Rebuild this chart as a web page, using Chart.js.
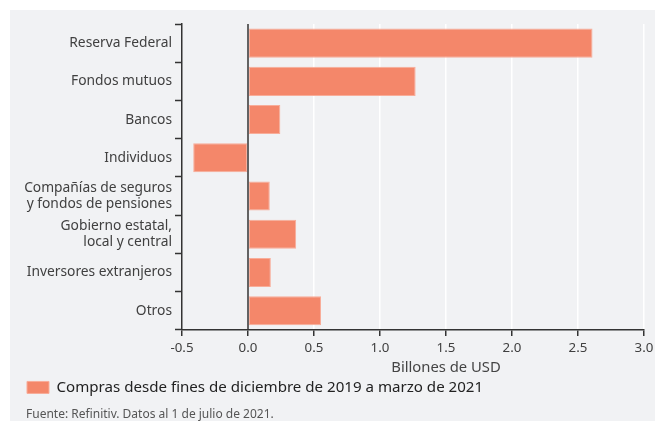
<!DOCTYPE html>
<html>
<head>
<meta charset="utf-8">
<script src="https://cdn.jsdelivr.net/npm/chart.js@4"></script>
<style>
  html, body { margin: 0; padding: 0; background: #fff; }
  #wrap { position: absolute; left: 10px; top: 10px; width: 645px; height: 411px; background: #f1f2f4; }
</style>
</head>
<body>
<div id="wrap"><canvas id="myChart"></canvas></div>
<script>
// data
const categories = [
  'Reserva Federal',
  'Fondos mutuos',
  'Bancos',
  'Individuos',
  ['Compañías de seguros', 'y fondos de pensiones'],
  ['Gobierno estatal,', 'local y central'],
  'Inversores extranjeros',
  'Otros'
];
const purchases = [2.61, 1.27, 0.245, -0.415, 0.165, 0.365, 0.173, 0.553];
const seriesLabel = 'Compras desde fines de diciembre de 2019 a marzo de 2021';
const xTicks = [-0.5, 0.0, 0.5, 1.0, 1.5, 2.0, 2.5, 3.0];
const xTitle = 'Billones de USD';
const source = 'Fuente: Refinitiv. Datos al 1 de julio de 2021.';

const FONT = '"Noto Sans", sans-serif';

// axis title sits under 1.5, and the zero line is drawn over the bars
const extras = {
  id: 'extras',
  afterLayout(chart) {
    // let the long category labels run past the padding without being clipped
    chart.scales.y.left = 0;
  },
  afterDatasetsDraw(chart) {
    const { ctx, chartArea, scales: { x } } = chart;
    const zx = x.getPixelForValue(0);
    ctx.save();
    ctx.strokeStyle = '#333';
    ctx.lineWidth = 1.5;
    ctx.beginPath();
    ctx.moveTo(zx, chartArea.top);
    ctx.lineTo(zx, chartArea.bottom);
    ctx.stroke();
    ctx.fillStyle = '#444';
    ctx.font = '14.8px ' + FONT;
    ctx.textAlign = 'center';
    ctx.textBaseline = 'middle';
    ctx.fillText(xTitle, x.getPixelForValue(1.5), chartArea.bottom + 38);
    ctx.restore();
  }
};

document.addEventListener('DOMContentLoaded', function () {
  const ctx = document.getElementById('myChart');

  new Chart(ctx, {
    type: 'bar',
    data: {
      labels: categories,
      datasets: [{
        label: seriesLabel,
        data: purchases,
        backgroundColor: '#f4876a',
        borderColor: '#f8ad99',
        borderWidth: 1,
        borderSkipped: false,
        barPercentage: 0.76,
        categoryPercentage: 1
      }]
    },
    options: {
      indexAxis: 'y',
      responsive: true,
      maintainAspectRatio: false,
      animation: false,
      layout: { padding: { top: 14, right: 11, left: 16, bottom: 0 } },
      scales: {
        x: {
          type: 'linear',
          min: -0.5,
          max: 3.0,
          afterFit: s => { s.height = 49; s.paddingRight = 0; },
          afterBuildTicks: s => { s.ticks = xTicks.map(v => ({ value: v })); },
          ticks: {
            color: '#404040',
            font: { family: FONT, size: 13.3 },
            padding: 4,
            callback: v => v.toFixed(1)
          },
          grid: {
            color: c => (c.tick && c.tick.value > 0) ? '#ffffff' : 'rgba(0,0,0,0)',
            lineWidth: 1.5,
            tickColor: '#333',
            tickLength: 6,
            tickWidth: 1.5
          },
          border: { color: '#333', width: 1.5 }
        },
        y: {
          afterFit: s => { s.width = 156; },
          ticks: {
            color: '#404040',
            font: { family: FONT, size: 13.8, lineHeight: 1.18 },
            padding: 3
          },
          grid: {
            offset: true,
            drawOnChartArea: false,
            tickColor: '#333',
            tickLength: 7,
            tickWidth: 1.5
          },
          border: { color: '#333', width: 1.5 }
        }
      },
      plugins: {
        legend: {
          position: 'bottom',
          align: 'start',
          labels: {
            boxWidth: 22,
            boxHeight: 12,
            padding: 1,
            color: '#222',
            font: { family: FONT, size: 15.1 }
          }
        },
        title: {
          display: true,
          text: source,
          position: 'bottom',
          align: 'start',
          color: '#555',
          font: { family: FONT, size: 12, weight: 'normal', lineHeight: 1 },
          padding: { top: 4, bottom: 0 }
        },
        tooltip: { enabled: false }
      }
    },
    plugins: [extras]
  });
});
</script>
</body>
</html>
